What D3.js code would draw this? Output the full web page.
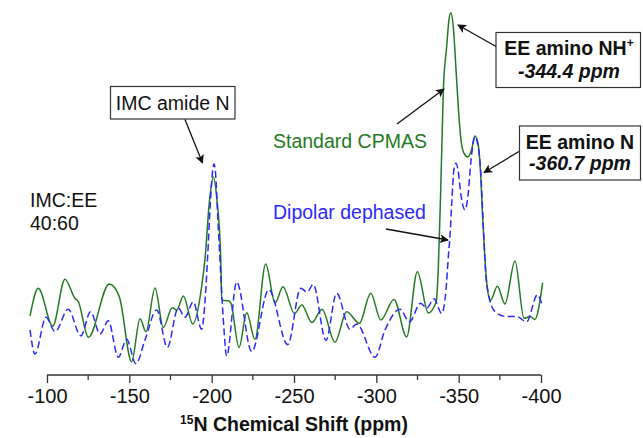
<!DOCTYPE html>
<html><head><meta charset="utf-8">
<script src="https://cdn.jsdelivr.net/npm/d3@7"></script>
<style>
html,body{margin:0;padding:0;background:#fff;}
svg text{font-family:Arial,"Liberation Sans",Helvetica,sans-serif;}
</style></head>
<body><svg id="c" width="643" height="438"></svg>
<script>
// chemical shift (ppm) of each sampled point
const cpmasPpm = [-89.7,-94.7,-103.5,-110.9,-117.0,-119.0,-125.1,-137.8,-143.9,-151.4,-156.5,-160.1,-165.6,-170.6,-176.1,-178.8,-182.8,-188.5,-193.9,-196.0,-198.7,-201.0,-203.2,-205.5,-206.1,-210.1,-211.6,-216.6,-221.3,-226.3,-232.8,-238.5,-243.3,-250.3,-254.7,-260.9,-267.0,-274.9,-282.0,-289.7,-296.6,-302.7,-310.7,-318.4,-324.9,-331.6,-335.0,-336.5,-337.7,-339.1,-340.7,-342.7,-344.1,-345.2,-346.9,-348.4,-349.9,-351.4,-353.2,-355.5,-357.8,-359.9,-361.7,-363.2,-364.5,-366.0,-367.5,-369.4,-373.5,-378.1,-384.2,-389.7,-393.3,-396.3,-401.0];
// standard CPMAS intensity (relative)
const cpmasInt = [12.6,20.5,9.7,23.1,17.6,16.7,6.5,21.7,18.1,-0.5,11.8,8.1,20.6,9.3,14.9,14.3,18.3,10.3,20.9,29.1,45.7,52.2,45.7,29.1,17.1,16.9,16.3,3.6,13.5,5.9,27.4,16.3,20.9,13.3,15.7,10.7,14.5,5.1,13.8,10.5,19.1,11.4,17.3,6.6,25.2,13.4,15.2,17.1,27.1,48.6,77.1,89.5,97.1,99.2,94.3,82.9,71.4,62.9,59.1,58.0,60.0,64.0,62.0,54.3,41.4,28.6,20.0,17.1,21.1,16.0,28.3,11.9,12.4,11.6,22.1];

const dephPpm = [-89.7,-92.7,-99.4,-104.9,-112.9,-120.5,-126.5,-132.2,-137.2,-143.3,-148.4,-154.0,-159.5,-166.6,-173.1,-179.7,-183.8,-188.8,-193.9,-196.0,-197.5,-199.3,-200.5,-201.4,-202.3,-203.8,-205.7,-207.5,-209.1,-215.2,-224.3,-234.7,-246.2,-254.1,-258.0,-261.7,-269.4,-275.9,-284.0,-288.1,-299.2,-305.3,-314.4,-320.1,-326.9,-330.6,-335.0,-339.7,-342.3,-343.8,-344.7,-345.9,-347.1,-348.4,-349.6,-351.4,-353.8,-355.7,-357.5,-359.9,-361.7,-363.5,-364.8,-366.3,-368.0,-372.1,-379.2,-385.2,-391.3,-397.8,-400.4];
// dipolar dephased intensity (relative)
const dephInt = [8.6,1.7,12.2,8.1,14.5,6.9,13.8,7.4,11.2,0.8,5.9,-1.1,5.7,14.3,3.6,14.9,12.2,16.6,8.8,17.1,29.1,45.7,53.7,56.0,53.7,40.0,22.9,8.6,1.1,22.3,2.4,20.1,4.4,20.5,19.4,21.6,5.6,19.1,8.8,10.3,0.8,8.6,14.5,10.9,16.2,14.8,17.5,13.3,20.0,30.0,35.2,45.7,54.3,56.2,54.3,47.1,42.9,47.1,57.1,63.8,61.4,52.9,40.0,25.7,19.1,13.8,12.4,12.4,10.9,18.6,16.2];

const tickMajor = [-100,-150,-200,-250,-300,-350,-400];
const tickMinor = [-125,-175,-225,-275,-325,-375];

const svg = d3.select("#c");
const x = d3.scaleLinear().domain([-100,-400]).range([47,541]);
const y = d3.scaleLinear().domain([0,100]).range([360,10]);

const defs = svg.append("defs");
defs.append("marker").attr("id","ah").attr("viewBox","0 0 10 10")
  .attr("refX",9).attr("refY",5).attr("markerWidth",9).attr("markerHeight",9)
  .attr("markerUnits","userSpaceOnUse").attr("orient","auto")
  .append("path").attr("d","M0,0 L10,5 L0,10 L2.5,5 Z").attr("fill","#111");

const line = d3.line().x(d=>x(d[0])).y(d=>y(d[1])).curve(d3.curveMonotoneX);

const cp = cpmasPpm.map((p,i)=>[p,cpmasInt[i]]);
const dp = dephPpm.map((p,i)=>[p,dephInt[i]]);

svg.append("path").attr("d",line(cp)).attr("fill","none")
  .attr("stroke","#237a23").attr("stroke-width",1.5);
svg.append("path").attr("d",line(dp)).attr("fill","none")
  .attr("stroke","#2a2aff").attr("stroke-width",1.5).attr("stroke-dasharray","7,3.5");

// axis
const axY = 375;
const ax = svg.append("g").attr("transform",`translate(0,${axY})`);
ax.call(d3.axisBottom(x).tickValues(tickMajor).tickSize(8).tickPadding(6).tickFormat(d3.format("d")));
ax.select(".domain").attr("stroke","#333").attr("stroke-width",1.3).attr("d",`M${x(-100)},0H${x(-400)}`);
ax.selectAll(".tick line").attr("stroke","#333").attr("stroke-width",1.3);
ax.selectAll(".tick text").attr("font-size",20).attr("fill","#111")
  .attr("font-family","Arial, 'Liberation Sans', sans-serif").text(d=>String(d));
ax.selectAll(".minor").data(tickMinor).enter().append("line")
  .attr("x1",d=>x(d)).attr("x2",d=>x(d)).attr("y1",0).attr("y2",5)
  .attr("stroke","#333").attr("stroke-width",1.3);

const title = svg.append("text").attr("x",x(-250)).attr("y",431).attr("text-anchor","middle")
  .attr("font-size",19.5).attr("font-weight","bold").attr("fill","#111");
title.append("tspan").attr("font-size",12).attr("dy",-7).text("15");
title.append("tspan").attr("dy",7).text("N Chemical Shift (ppm)");

// labels
svg.append("text").attr("x",30).attr("y",207).attr("font-size",19.5).attr("fill","#111").text("IMC:EE");
svg.append("text").attr("x",30).attr("y",230).attr("font-size",19.5).attr("fill","#111").text("40:60");
svg.append("text").attr("x",273).attr("y",148).attr("font-size",19.5).attr("fill","#237a23").text("Standard CPMAS");
svg.append("text").attr("x",273).attr("y",219).attr("font-size",19.5).attr("fill","#2a2aff").text("Dipolar dephased");

function arrow(x1,y1,x2,y2){
  svg.append("line").attr("x1",x1).attr("y1",y1).attr("x2",x2).attr("y2",y2)
    .attr("stroke","#111").attr("stroke-width",1.3).attr("marker-end","url(#ah)");
}
arrow(397,124,444,89);
arrow(386,229,448,240);

// IMC amide box
svg.append("rect").attr("x",110.5).attr("y",86.5).attr("width",124.5).attr("height",32.5)
  .attr("fill","#fff").attr("stroke","#333").attr("stroke-width",1.2);
svg.append("text").attr("x",172.7).attr("y",110).attr("text-anchor","middle").attr("font-size",19.5).attr("fill","#111").text("IMC amide N");
arrow(185,119.5,202.5,163);

// EE amino NH+ box
svg.append("rect").attr("x",496).attr("y",32.5).attr("width",144.5).attr("height",55)
  .attr("fill","#fff").attr("stroke","#333").attr("stroke-width",1.2);
const t1 = svg.append("text").attr("x",569).attr("y",55).attr("text-anchor","middle").attr("font-size",19.5).attr("font-weight","bold").attr("fill","#111");
t1.append("tspan").text("EE amino NH");
t1.append("tspan").attr("font-size",12).attr("dy",-8).text("+");
svg.append("text").attr("x",569).attr("y",78).attr("text-anchor","middle").attr("font-size",19.5).attr("font-weight","bold").attr("font-style","italic").attr("fill","#111").text("-344.4 ppm");
arrow(496,46.5,458,25);

// EE amino N box
svg.append("rect").attr("x",519.5).attr("y",126).attr("width",121).attr("height",54)
  .attr("fill","#fff").attr("stroke","#333").attr("stroke-width",1.2);
svg.append("text").attr("x",580).attr("y",148.5).attr("text-anchor","middle").attr("font-size",19.5).attr("font-weight","bold").attr("fill","#111").text("EE amino N");
svg.append("text").attr("x",580).attr("y",170).attr("text-anchor","middle").attr("font-size",19.5).attr("font-weight","bold").attr("font-style","italic").attr("fill","#111").text("-360.7 ppm");
arrow(519,151.5,484,172.5);
</script></body></html>
